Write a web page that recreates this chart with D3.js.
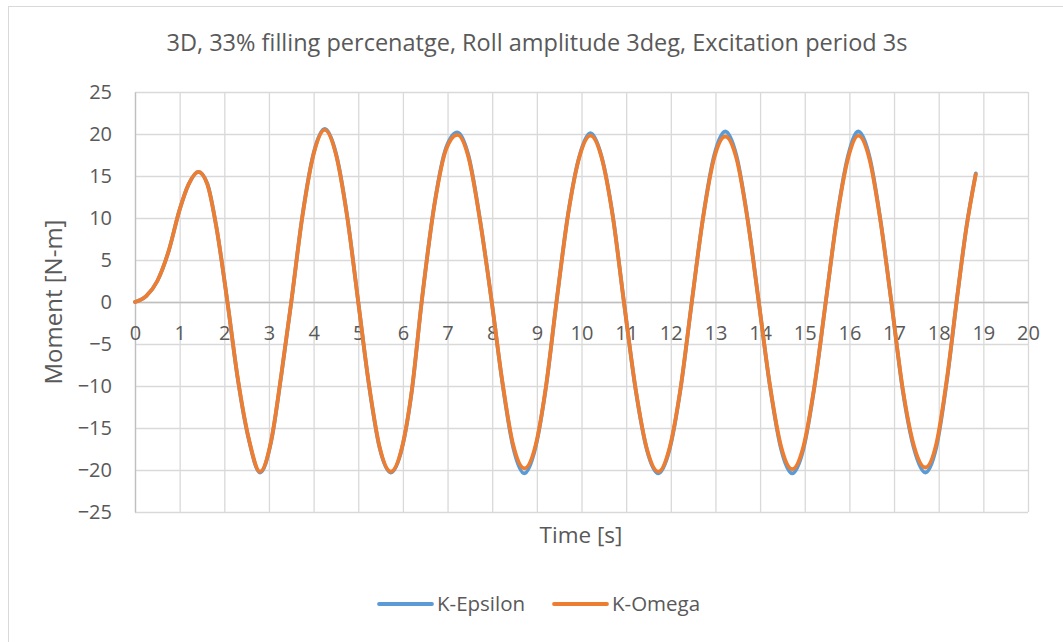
<!DOCTYPE html>
<head>
    <meta charset="utf-8">
    <script src="https://d3js.org/d3.v7.min.js"></script>
    <style>
        body { margin:0; background:#fff; }
        svg text { font-family: "Open Sans", sans-serif; fill: #595959; }
    </style>
</head>
<body>
    <svg id="svgelem" width="1063" height="642"></svg>

    <script>
        // Data
        var times = [
            0, 0.25, 0.5, 0.75, 1.0, 1.2, 1.42, 1.62, 1.82, 2.07, 2.3, 2.55, 2.8,
            3.05, 3.28, 3.5, 3.75, 4.0, 4.25,
            4.5, 4.75, 5.0, 5.24, 5.48, 5.73,
            5.98, 6.2, 6.42, 6.72, 6.97, 7.22,
            7.47, 7.73, 7.99, 8.22, 8.47, 8.72,
            8.97, 9.2, 9.44, 9.7, 9.95, 10.2,
            10.45, 10.7, 10.95, 11.22, 11.47, 11.72,
            11.97, 12.22, 12.47, 12.72, 12.97, 13.22,
            13.47, 13.72, 13.97, 14.22, 14.47, 14.72,
            14.97, 15.22, 15.47, 15.72, 15.97, 16.2,
            16.45, 16.7, 16.94, 17.2, 17.45, 17.7,
            17.95, 18.2, 18.4, 18.62, 18.83
        ];
        var kEpsilon = [
            0, 0.7, 2.5, 6.0, 11.0, 14.0, 15.5, 14.1, 9.0, 0, -9.1, -16.4, -20.3,
            -16.6, -8.6, 0, 10.3, 17.7, 20.6,
            17.7, 10.3, 0, -9.9, -17.4, -20.3,
            -17.4, -10.6, 0, 12.1, 18.4, 20.2,
            17.4, 9.7, 0, -9.3, -17.3, -20.4,
            -17.3, -10.3, 0, 10.5, 17.3, 20.1,
            17.3, 10.3, 0, -10.7, -17.7, -20.4,
            -17.6, -10.3, 0, 10.0, 17.4, 20.3,
            17.4, 9.9, 0, -10.0, -17.5, -20.4,
            -17.5, -10.0, 0, 10.0, 17.4, 20.3,
            17.3, 9.6, 0, -10.7, -17.5, -20.3,
            -17.2, -8.7, 0, 8.9, 15.3
        ];
        var kOmega = [
            0, 0.7, 2.5, 6.0, 11.0, 14.0, 15.5, 14.0, 9.0, 0, -9.0, -16.3, -20.2,
            -16.5, -8.5, 0, 10.2, 17.6, 20.5,
            17.6, 10.2, 0, -9.8, -17.3, -20.2,
            -17.3, -10.5, 0, 12.0, 18.2, 19.9,
            17.2, 9.6, 0, -9.2, -17.0, -19.8,
            -17.1, -10.2, 0, 10.4, 17.2, 19.8,
            17.2, 10.2, 0, -10.6, -17.6, -20.2,
            -17.4, -10.2, 0, 9.9, 17.1, 19.7,
            17.1, 9.8, 0, -9.9, -17.2, -19.9,
            -17.2, -9.9, 0, 9.9, 17.1, 19.8,
            17.0, 9.5, 0, -10.5, -17.2, -19.7,
            -16.8, -8.5, 0, 8.8, 15.2
        ];
        var seriesNames = ["K-Epsilon", "K-Omega"];
        var xTicks = d3.range(0, 21, 1);
        var yTicks = [-25, -20, -15, -10, -5, 0, 5, 10, 15, 20, 25];

        var colors = ["#5b9bd5", "#ed7d31"];
        var svg = d3.select("#svgelem");

        // chart border
        svg.append("rect")
            .attr("x", 8.5).attr("y", 6.5)
            .attr("width", 1080).attr("height", 640)
            .attr("fill", "#fff").attr("stroke", "#d9d9d9");

        var plotL = 135, plotR = 1028, plotT = 92, plotB = 512;
        var x = d3.scaleLinear().domain([0, 20]).range([plotL, plotR]);
        var y = d3.scaleLinear().domain([-25, 25]).range([plotB, plotT]);

        // grid lines
        svg.append("g")
            .attr("transform", "translate(0," + plotB + ")")
            .call(d3.axisBottom(x).tickValues(xTicks).tickSize(-(plotB - plotT)).tickFormat(""))
            .call(function(g) {
                g.select(".domain").remove();
                g.selectAll("line").attr("stroke", "#d9d9d9").attr("stroke-width", 1.3);
            });
        svg.append("g")
            .attr("transform", "translate(" + plotL + ",0)")
            .call(d3.axisLeft(y).tickValues(yTicks).tickSize(-(plotR - plotL)).tickFormat(""))
            .call(function(g) {
                g.select(".domain").remove();
                g.selectAll("line").attr("stroke", "#d9d9d9").attr("stroke-width", 1.3);
            });

        // y axis
        svg.append("g")
            .attr("transform", "translate(" + plotL + ",0)")
            .call(d3.axisLeft(y).tickValues(yTicks).tickSize(0).tickPadding(23))
            .call(function(g) {
                g.select(".domain").attr("stroke", "#bfbfbf").attr("stroke-width", 1.3);
                g.selectAll("text").style("font-size", "20px").attr("fill", "#595959");
            });

        // x axis through zero
        svg.append("g")
            .attr("transform", "translate(0," + y(0) + ")")
            .call(d3.axisBottom(x).tickValues(xTicks).tickSize(0).tickPadding(24))
            .call(function(g) {
                g.select(".domain").attr("stroke", "#bfbfbf").attr("stroke-width", 1.3);
                g.selectAll("text").style("font-size", "20px").attr("fill", "#595959");
            });

        // series lines
        var line = d3.line()
            .x(function(d) { return x(d.t); })
            .y(function(d) { return y(d.v); })
            .curve(d3.curveMonotoneX);

        [kEpsilon, kOmega].forEach(function(vals, i) {
            var pts = times.map(function(t, j) { return { t: t, v: vals[j] }; });
            svg.append("path")
                .datum(pts)
                .attr("d", line)
                .attr("fill", "none")
                .attr("stroke", colors[i])
                .attr("stroke-width", 3.8)
                .attr("stroke-linecap", "round")
                .attr("stroke-linejoin", "round");
        });

        // title
        svg.append("text")
            .attr("x", 537).attr("y", 51)
            .attr("text-anchor", "middle")
            .style("font-size", "23.5px")
            .text("3D, 33% filling percenatge, Roll amplitude 3deg, Excitation period 3s");

        // axis titles
        svg.append("text")
            .attr("transform", "translate(62,302) rotate(-90)")
            .attr("text-anchor", "middle")
            .style("font-size", "24px")
            .text("Moment [N-m]");
        svg.append("text")
            .attr("x", 581).attr("y", 543)
            .attr("text-anchor", "middle")
            .style("font-size", "22.5px")
            .text("Time [s]");

        // legend
        var legendX = [379, 554];
        seriesNames.forEach(function(name, i) {
            var g = svg.append("g").attr("transform", "translate(" + legendX[i] + ",604)");
            g.append("line")
                .attr("x1", 0).attr("x2", 53)
                .attr("stroke", colors[i]).attr("stroke-width", 3.8)
                .attr("stroke-linecap", "round");
            g.append("text")
                .attr("x", 58).attr("y", 7)
                .style("font-size", "20.5px")
                .text(name);
        });
    </script>
</body>
